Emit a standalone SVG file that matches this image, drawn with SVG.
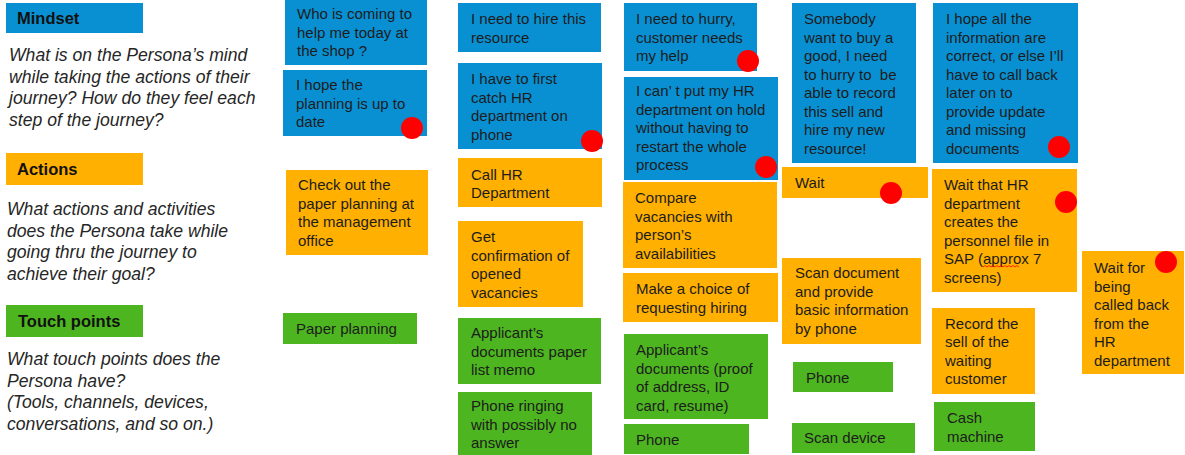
<svg xmlns="http://www.w3.org/2000/svg" width="1185" height="455" viewBox="0 0 1185 455">
<style>
.b{fill:#0990d2}
.o{fill:#ffb000}
.g{fill:#4db520}
.dot{fill:#ff0000}
.t{font-family:"Liberation Sans",Arial,sans-serif;font-size:15px;fill:#1c1c1c}
.h{font-family:"Liberation Sans",Arial,sans-serif;font-size:16.5px;font-weight:bold;fill:#111}
.q{font-family:"Liberation Sans",Arial,sans-serif;font-size:17.6px;font-style:italic;fill:#262626}
</style>
<rect width="1185" height="455" fill="#ffffff"/>
<g id="legend">
<rect class="b" x="6" y="3" width="137" height="30"/>
<text class="h" x="17" y="24">Mindset</text>
<text class="q"><tspan x="9" y="61">What is on the Persona’s mind</tspan><tspan x="9" y="82.5">while taking the actions of their</tspan><tspan x="9" y="104">journey? How do they feel each</tspan><tspan x="9" y="125.5">step of the journey?</tspan></text>
<rect class="o" x="6" y="153" width="137" height="32"/>
<text class="h" x="17" y="175">Actions</text>
<text class="q"><tspan x="7" y="215">What actions and activities</tspan><tspan x="7" y="236.5">does the Persona take while</tspan><tspan x="7" y="258">going thru the journey to</tspan><tspan x="7" y="279.5">achieve their goal?</tspan></text>
<rect class="g" x="6" y="305" width="137" height="32"/>
<text class="h" x="18" y="327">Touch points</text>
<text class="q"><tspan x="7" y="365">What touch points does the</tspan><tspan x="7" y="386.5">Persona have?</tspan><tspan x="7" y="408">(Tools, channels, devices,</tspan><tspan x="7" y="429.5">conversations, and so on.)</tspan></text>
</g>
<g id="n1"><rect class="b" x="285" y="0" width="142" height="65"/><text class="t"><tspan x="297" y="19">Who is coming to</tspan><tspan x="297" y="37.5">help me today at</tspan><tspan x="297" y="56">the shop ?</tspan></text></g>
<g id="n2"><rect class="b" x="283" y="70" width="144" height="66"/><text class="t"><tspan x="296" y="90">I hope the</tspan><tspan x="296" y="108.5">planning is up to</tspan><tspan x="296" y="127">date</tspan></text><circle class="dot" cx="412" cy="128" r="11"/></g>
<g id="n3"><rect class="o" x="286" y="170" width="142" height="85"/><text class="t"><tspan x="298" y="190">Check out the</tspan><tspan x="298" y="208.5">paper planning at</tspan><tspan x="298" y="227">the management</tspan><tspan x="298" y="245.5">office</tspan></text></g>
<g id="n4"><rect class="g" x="283" y="313" width="134" height="31"/><text class="t"><tspan x="296" y="334">Paper planning</tspan></text></g>
<g id="n5"><rect class="b" x="458" y="3" width="143" height="49"/><text class="t"><tspan x="471" y="24">I need to hire this</tspan><tspan x="471" y="42.5">resource</tspan></text></g>
<g id="n6"><rect class="b" x="458" y="63" width="144" height="86"/><text class="t"><tspan x="471" y="84">I have to first</tspan><tspan x="471" y="102.5">catch HR</tspan><tspan x="471" y="121">department on</tspan><tspan x="471" y="139.5">phone</tspan></text><circle class="dot" cx="592" cy="141" r="11"/></g>
<g id="n7"><rect class="o" x="458" y="158" width="144" height="49"/><text class="t"><tspan x="471" y="180">Call HR</tspan><tspan x="471" y="198">Department</tspan></text></g>
<g id="n8"><rect class="o" x="458" y="221" width="125" height="86"/><text class="t"><tspan x="471" y="242">Get</tspan><tspan x="471" y="260.5">confirmation of</tspan><tspan x="471" y="279">opened</tspan><tspan x="471" y="297.5">vacancies</tspan></text></g>
<g id="n9"><rect class="g" x="458" y="318" width="143" height="66"/><text class="t"><tspan x="471" y="338">Applicant’s</tspan><tspan x="471" y="356.5">documents paper</tspan><tspan x="471" y="375">list memo</tspan></text></g>
<g id="n10"><rect class="g" x="458" y="392" width="134" height="63"/><text class="t"><tspan x="471" y="411">Phone ringing</tspan><tspan x="471" y="429.5">with possibly no</tspan><tspan x="471" y="448">answer</tspan></text></g>
<g id="n11"><rect class="b" x="624" y="3" width="133" height="68"/><text class="t"><tspan x="636" y="24">I need to hurry,</tspan><tspan x="636" y="42.5">customer needs</tspan><tspan x="636" y="61">my help</tspan></text><circle class="dot" cx="748" cy="61" r="11"/></g>
<g id="n12"><rect class="b" x="624" y="77" width="154" height="103"/><text class="t"><tspan x="636" y="96">I can’ t put my HR</tspan><tspan x="636" y="114.5">department on hold</tspan><tspan x="636" y="133">without having to</tspan><tspan x="636" y="151.5">restart the whole</tspan><tspan x="636" y="170">process</tspan></text><circle class="dot" cx="766" cy="167" r="11"/></g>
<g id="n13"><rect class="o" x="623" y="182" width="154" height="86"/><text class="t"><tspan x="635" y="203">Compare</tspan><tspan x="635" y="221.5">vacancies with</tspan><tspan x="635" y="240">person’s</tspan><tspan x="635" y="258.5">availabilities</tspan></text></g>
<g id="n14"><rect class="o" x="623" y="273" width="155" height="49"/><text class="t"><tspan x="636" y="294">Make a choice of</tspan><tspan x="636" y="312.5">requesting hiring</tspan></text></g>
<g id="n15"><rect class="g" x="624" y="334" width="144" height="85"/><text class="t"><tspan x="636" y="355">Applicant’s</tspan><tspan x="636" y="373.5">documents (proof</tspan><tspan x="636" y="392">of address, ID</tspan><tspan x="636" y="410.5">card, resume)</tspan></text></g>
<g id="n16"><rect class="g" x="624" y="424" width="125" height="30"/><text class="t"><tspan x="636" y="444.5">Phone</tspan></text></g>
<g id="n17"><rect class="b" x="792" y="3" width="124" height="160"/><text class="t"><tspan x="804" y="24">Somebody</tspan><tspan x="804" y="42.5">want to buy a</tspan><tspan x="804" y="61">good, I need</tspan><tspan x="804" y="79.5">to hurry to&#160; be</tspan><tspan x="804" y="98">able to record</tspan><tspan x="804" y="116.5">this sell and</tspan><tspan x="804" y="135">hire my new</tspan><tspan x="804" y="153.5">resource!</tspan></text></g>
<g id="n18"><rect class="o" x="782" y="167" width="146" height="31"/><text class="t"><tspan x="795" y="188">Wait</tspan></text><circle class="dot" cx="891" cy="193" r="11"/></g>
<g id="n19"><rect class="o" x="782" y="258" width="139" height="86"/><text class="t"><tspan x="795" y="278">Scan document</tspan><tspan x="795" y="296.5">and provide</tspan><tspan x="795" y="315">basic information</tspan><tspan x="795" y="333.5">by phone</tspan></text></g>
<g id="n20"><rect class="g" x="793" y="362" width="100" height="30"/><text class="t"><tspan x="806" y="382.5">Phone</tspan></text></g>
<g id="n21"><rect class="g" x="792" y="423" width="123" height="30"/><text class="t"><tspan x="804" y="443">Scan device</tspan></text></g>
<g id="n22"><rect class="b" x="933" y="3" width="145" height="160"/><text class="t"><tspan x="946" y="24">I hope all the</tspan><tspan x="946" y="42.5">information are</tspan><tspan x="946" y="61">correct, or else I’ll</tspan><tspan x="946" y="79.5">have to call back</tspan><tspan x="946" y="98">later on to</tspan><tspan x="946" y="116.5">provide update</tspan><tspan x="946" y="135">and missing</tspan><tspan x="946" y="153.5">documents</tspan></text><circle class="dot" cx="1059" cy="147" r="11"/></g>
<g id="n23"><rect class="o" x="932" y="169" width="145" height="123"/><text class="t"><tspan x="944" y="190">Wait that HR</tspan><tspan x="944" y="208.5">department</tspan><tspan x="944" y="227">creates the</tspan><tspan x="944" y="245.5">personnel file in</tspan><tspan x="944" y="264">SAP (approx 7</tspan><tspan x="944" y="282.5">screens)</tspan></text><path d="M983 267 l2 -1.5 l2 1.5 l2 -1.5 l2 1.5 l2 -1.5 l2 1.5 l2 -1.5 l2 1.5 l2 -1.5 l2 1.5 l2 -1.5 l2 1.5 l2 -1.5 l2 1.5 l2 -1.5 l2 1.5 l2 -1.5 l2 1.5" fill="none" stroke="#ff0000" stroke-width="0.8"/><circle class="dot" cx="1066" cy="202" r="11"/></g>
<g id="n24"><rect class="o" x="932" y="308" width="103" height="86"/><text class="t"><tspan x="945" y="328.5">Record the</tspan><tspan x="945" y="347">sell of the</tspan><tspan x="945" y="365.5">waiting</tspan><tspan x="945" y="384">customer</tspan></text></g>
<g id="n25"><rect class="g" x="934" y="402" width="101" height="49"/><text class="t"><tspan x="947" y="423">Cash</tspan><tspan x="947" y="441.5">machine</tspan></text></g>
<g id="n26"><rect class="o" x="1082" y="251" width="102" height="123"/><text class="t"><tspan x="1094" y="273">Wait for</tspan><tspan x="1094" y="291.5">being</tspan><tspan x="1094" y="310">called back</tspan><tspan x="1094" y="328.5">from the</tspan><tspan x="1094" y="347">HR</tspan><tspan x="1094" y="365.5">department</tspan></text><circle class="dot" cx="1166" cy="262" r="11"/></g>
<g id="connectors"></g>
</svg>
